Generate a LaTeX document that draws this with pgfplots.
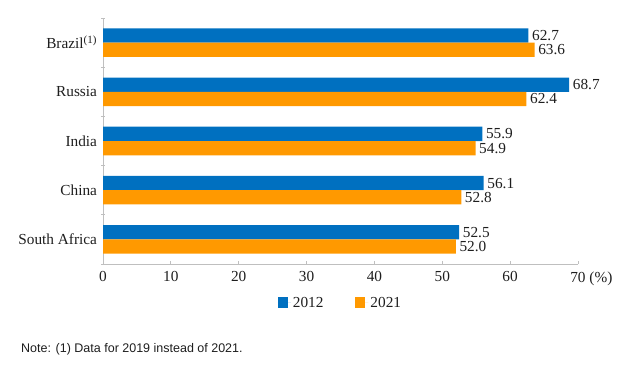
\documentclass[border=0pt]{standalone}
\usepackage{pgfplots}
\pgfplotsset{compat=1.18}
\usepackage{fontspec}
\setmainfont{Liberation Serif}
\newfontfamily\notefont{Liberation Sans}
\definecolor{cblue}{RGB}{0,112,192}
\definecolor{corange}{RGB}{255,153,0}
\definecolor{axgray}{RGB}{191,191,191}
\definecolor{txt}{RGB}{30,30,30}
\newcommand{\cf}{\fontsize{15.3}{18}\selectfont}
\begin{document}
\begin{tikzpicture}[x=1pt,y=1pt]
\useasboundingbox (0,0) rectangle (626,365);
\begin{axis}[
  at={(103pt,101pt)}, anchor=south west,
  scale only axis, width=475pt, height=246pt,
  xmin=0, xmax=70, ymin=-0.5, ymax=4.5,
  xbar, bar width=0.29,
  axis x line*=bottom, axis y line*=left,
  axis line style={axgray, line width=0.8pt, -},
  tick style={axgray, line width=0.8pt},
  tick align=outside,
  major tick length=3.5pt, minor tick length=3pt,
  major x tick style={yshift=3.5pt},
  minor y tick style={xshift=1.5pt},
  major y tick style={draw=none},
  xtick={0,10,...,70},
  xticklabels={0,10,20,30,40,50,60,70\rlap{ (\%)}},
  ytick={0,1,2,3,4},
  yticklabels={South Africa, China, India, Russia, Brazil\textsuperscript{\fontsize{11}{12}\selectfont(1)}},
  minor ytick={-0.5,0.5,...,4.5},
  tick label style={font=\cf, text=txt},
  yticklabel style={xshift=1pt},
  xticklabel style={yshift=-0.5pt},
  /pgf/number format/fixed,
  /pgf/number format/fixed zerofill,
  /pgf/number format/precision=1,
  /pgf/number format/assume math mode=true,
  nodes near coords,
  nodes near coords style={font=\cf, text=txt, anchor=west, inner xsep=3.5pt},
  legend columns=2,
  legend style={draw=none, font=\cf, text=txt, at={(0.5,-0.1585)}, anchor=center,
    /tikz/every even column/.append style={column sep=30pt}},
  legend image code/.code={\fill[#1] (0pt,-5.5pt) rectangle (10pt,5.5pt); \path (0pt,0pt) -- (13pt,0pt);},
]
\addplot[fill=cblue, draw=none, bar shift=0.145] coordinates {(52.5,0) (56.1,1) (55.9,2) (68.7,3) (62.7,4)};
\addplot[fill=corange, draw=none, bar shift=-0.145] coordinates {(52.0,0) (52.8,1) (54.9,2) (62.4,3) (63.6,4)};
\legend{2012,2021}
\end{axis}
\node[anchor=base west, font=\notefont\fontsize{12.5}{15}\selectfont, text=txt, inner sep=0pt] at (21,13) {Note: (1) Data for 2019 instead of 2021.};
\end{tikzpicture}
\end{document}
